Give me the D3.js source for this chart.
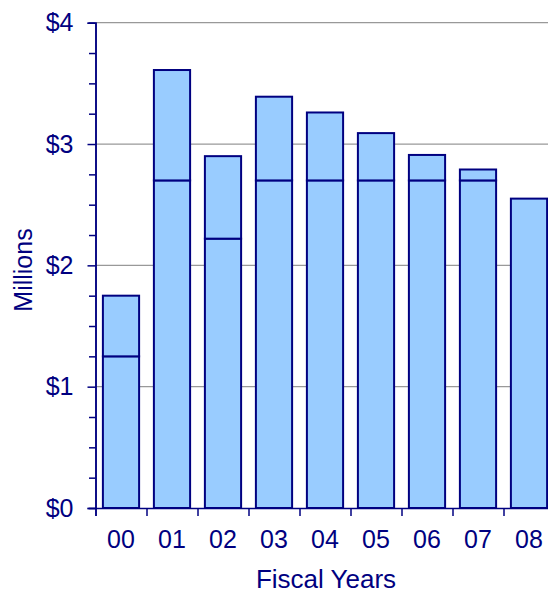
<!DOCTYPE html>
<html>
<head>
<meta charset="utf-8">
<script src="https://cdn.jsdelivr.net/npm/d3@7"></script>
<style>
  body { margin: 0; background: #fff; }
  svg { display: block; font-family: "Liberation Sans", Arial, sans-serif; }
</style>
</head>
<body>
<div class="chart"></div>
<script>
// fiscal years and the two stacked parts of each bar ($ millions)
let years = ['00', '01', '02', '03', '04', '05', '06', '07', '08']
let baseValues = [1.25, 2.70, 2.22, 2.70, 2.70, 2.70, 2.70, 2.70, 2.55]
let topValues = [0.50, 0.91, 0.68, 0.69, 0.56, 0.39, 0.21, 0.09, 0]
let yTicks = [0, 1, 2, 3, 4]

let width = 548,
    height = 595

let plotLeft = 95.5,
    plotBottom = 508,
    plotTop = 22.7,
    step = 51

let navy = '#000080'

let table = years.map(function(d, i) {
    return { year: d, base: baseValues[i], upper: topValues[i] }
})
let series = d3.stack().keys(['base', 'upper'])(table)

let x = d3.scaleBand()
    .domain(years)
    .range([plotLeft, plotLeft + step * years.length])
    .paddingInner(0.29)
    .paddingOuter(0.145)

let xEdges = d3.scaleLinear().domain([0, years.length]).range([plotLeft, plotLeft + step * years.length])

let y = d3.scaleLinear().domain([0, 4]).range([plotBottom, plotTop])

let svg = d3.select('.chart').append('svg')
    .attr('width', width)
    .attr('height', height)

// grid lines
svg.append('g')
    .selectAll('line')
    .data(yTicks.slice(1))
    .join('line')
    .attr('x1', plotLeft)
    .attr('x2', width)
    .attr('y1', function(d) { return y(d) })
    .attr('y2', function(d) { return y(d) })
    .attr('stroke', '#999')
    .attr('stroke-width', 1.2)

// bars
svg.append('g')
    .selectAll('g')
    .data(series)
    .join('g')
    .selectAll('rect')
    .data(function(s) { return s.filter(function(d) { return d[1] > d[0] }) })
    .join('rect')
    .attr('x', function(d) { return x(d.data.year) })
    .attr('width', x.bandwidth())
    .attr('y', function(d) { return y(d[1]) })
    .attr('height', function(d) { return y(d[0]) - y(d[1]) })
    .attr('fill', '#99ccff')
    .attr('stroke', navy)
    .attr('stroke-width', 2)

// y axis, major and minor ticks
let yAxis = svg.append('g')
    .attr('transform', 'translate(' + plotLeft + ',0)')
    .call(d3.axisLeft(y).tickValues(yTicks).tickSize(8).tickPadding(14)
        .tickFormat(function(d) { return '$' + d }))
yAxis.append('g')
    .call(d3.axisLeft(y).tickValues(d3.range(0, 4, 0.25).filter(function(d) { return d % 1 !== 0 }))
        .tickSize(6.5).tickFormat(''))

// x axis: tick marks between categories, labels under bars
let xAxis = svg.append('g')
    .attr('transform', 'translate(0,' + plotBottom + ')')
    .call(d3.axisBottom(xEdges).tickValues(d3.range(0, years.length + 1)).tickSize(8).tickFormat(''))
let xLabels = svg.append('g')
    .attr('transform', 'translate(0,' + plotBottom + ')')
    .call(d3.axisBottom(x).tickSize(0).tickPadding(22))
xLabels.select('.domain').remove()

svg.selectAll('.domain, .tick line')
    .attr('stroke', navy)
    .attr('stroke-width', 1.5)
svg.selectAll('.tick text')
    .attr('fill', navy)
    .style('font-size', '25px')
    .style('font-family', '"Liberation Sans", Arial, sans-serif')

// axis titles
svg.append('text')
    .attr('x', 326)
    .attr('y', 588)
    .attr('text-anchor', 'middle')
    .attr('fill', navy)
    .style('font-size', '26px')
    .text('Fiscal Years')

svg.append('text')
    .attr('transform', 'translate(32,270) rotate(-90)')
    .attr('text-anchor', 'middle')
    .attr('fill', navy)
    .style('font-size', '25px')
    .text('Millions')
</script>
</body>
</html>
